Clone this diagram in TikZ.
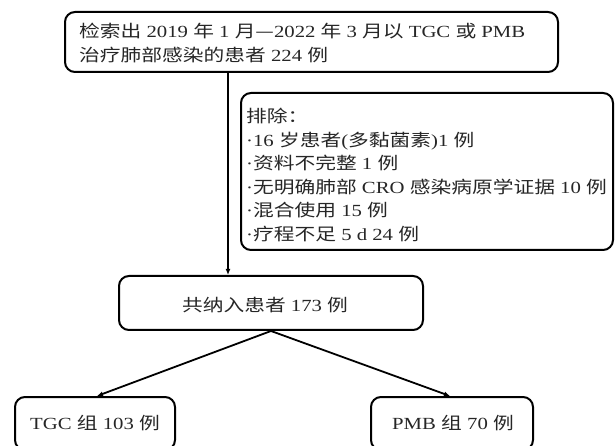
\documentclass[tikz,border=0pt]{standalone}
\usepackage{fontspec}
\setmainfont[FakeStretch=1.22]{Liberation Serif}
\newfontfamily\zhf[FakeStretch=1.22]{Noto Sans CJK SC}
\newcommand\zh[1]{{\zhf #1}}
\usetikzlibrary{arrows.meta}
\begin{document}
\begin{tikzpicture}[x=1pt,y=-1pt,
  box/.style={draw=black, line width=2pt, rounded corners=10pt, inner sep=0pt},
  txt/.style={inner sep=0pt, align=left, text=black!85, font=\fontsize{17}{23.5}\selectfont},
  arr/.style={line width=1.8pt, -{Latex[length=6pt,width=5pt]}}]
\useasboundingbox (0,0) rectangle (616,446);
% boxes
\node[box, minimum width=493pt, minimum height=60pt] (topbox) at (311.5,42) {};
\node[box, minimum width=372pt, minimum height=157pt] (excl) at (427,171.5) {};
\node[box, minimum width=304pt, minimum height=54pt] (mid) at (271,303) {};
\node[box, minimum width=160pt, minimum height=53pt] (tgc) at (95,423.5) {};
\node[box, minimum width=162pt, minimum height=53pt] (pmb) at (452,423.5) {};
% texts
\node[txt, anchor=west] (toptxt) at (79,43)
  {\zh{检索出} 2019 \zh{年} 1 \zh{月—}2022 \zh{年} 3 \zh{月以} TGC \zh{或} PMB\\
   \zh{治疗肺部感染的患者} 224 \zh{例}};
\node[txt, anchor=west] (excltxt) at (246,175)
  {\zh{排除：}\\
   ·16 \zh{岁患者}(\zh{多黏菌素})1 \zh{例}\\
   ·\zh{资料不完整} 1 \zh{例}\\
   ·\zh{无明确肺部} CRO \zh{感染病原学证据} 10 \zh{例}\\
   ·\zh{混合使用} 15 \zh{例}\\
   ·\zh{疗程不足} 5 d 24 \zh{例}};
\node[txt] (midtxt) at (265,305) {\zh{共纳入患者} 173 \zh{例}};
\node[txt] (tgctxt) at (95,423) {TGC \zh{组} 103 \zh{例}};
\node[txt] (pmbtxt) at (453,423) {PMB \zh{组} 70 \zh{例}};
% connectors
\coordinate (vx) at (228,0);
\draw[arr] (topbox.south -| vx) -- (mid.north -| vx);
\draw[arr] (mid.south) -- ([xshift=2pt]tgc.north);
\draw[arr] (mid.south) -- ([xshift=-2pt]pmb.north);
\end{tikzpicture}
\end{document}
